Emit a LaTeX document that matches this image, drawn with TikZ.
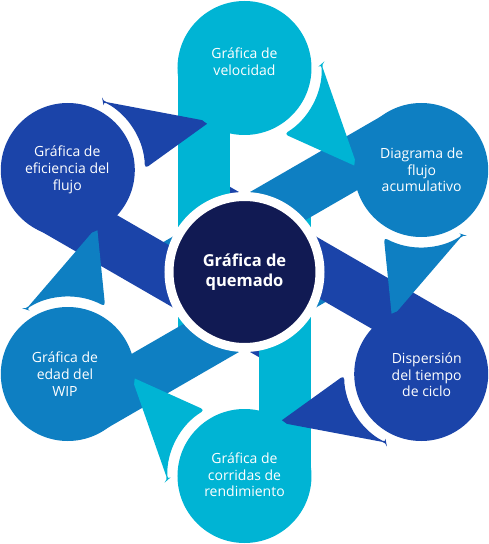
\documentclass[tikz,border=0pt]{standalone}
\usepackage{fontspec}
\setmainfont{Open Sans}
\definecolor{cyanband}{HTML}{00B4D4}
\definecolor{midband}{HTML}{0E7FC2}
\definecolor{darkband}{HTML}{1B44A9}
\definecolor{hubnavy}{HTML}{111A53}
\tikzset{
  bubble/.style={circle, minimum size=134pt, inner sep=0pt},
  tag/.style={text=white, align=center, inner sep=0pt, font=\fontsize{14}{16.7}\selectfont},
  hub/.style={circle, minimum size=151pt, inner sep=0pt, fill=hubnavy, draw=white, line width=9pt,
    text=white, align=center, font=\fontsize{16.5}{20}\selectfont\bfseries}
}
\begin{document}
\begin{tikzpicture}[x=1pt, y=1pt]
\useasboundingbox (-244.5,-272) rectangle (244.5,272);
\fill[cyanband] (-66.5,0) -- (-14.5,0) -- (-14.5,-78) -- (-66.5,-78) -- cycle;
\fill[midband, rotate=-60] (-66.5,0) -- (-14.5,0) -- (-14.5,-78) -- (-66.5,-78) -- cycle;
\fill[darkband, rotate=-120] (-66.5,0) -- (-14.5,0) -- (-14.5,-78) -- (-66.5,-78) -- cycle;
\fill[cyanband, rotate=180] (-66.5,0) -- (-14.5,0) -- (-14.5,-78) -- (-66.5,-78) -- cycle;
\fill[midband, rotate=120] (-66.5,0) -- (-14.5,0) -- (-14.5,-78) -- (-66.5,-78) -- cycle;
\fill[darkband, rotate=60] (-66.5,0) -- (-14.5,0) -- (-14.5,-78) -- (-66.5,-78) -- cycle;
\fill[cyanband] (-66.5,0) -- (-14.5,0) -- (-14.5,204) -- (-66.5,204) -- cycle;
\fill[midband, rotate=-60] (-66.5,0) -- (-14.5,0) -- (-14.5,204) -- (-66.5,204) -- cycle;
\fill[darkband, rotate=-120] (-66.5,0) -- (-14.5,0) -- (-14.5,204) -- (-66.5,204) -- cycle;
\fill[cyanband, rotate=180] (-66.5,0) -- (-14.5,0) -- (-14.5,204) -- (-66.5,204) -- cycle;
\fill[midband, rotate=120] (-66.5,0) -- (-14.5,0) -- (-14.5,204) -- (-66.5,204) -- cycle;
\fill[darkband, rotate=60] (-66.5,0) -- (-14.5,0) -- (-14.5,204) -- (-66.5,204) -- cycle;
\fill[cyanband, rounded corners=4pt] (76.9,208) -- (113,105) -- (39.7,138) arc[start angle=-59, end angle=3, radius=77] -- cycle;
\fill[midband, rotate=-60, rounded corners=4pt] (76.9,208) -- (113,105) -- (39.7,138) arc[start angle=-59, end angle=3, radius=77] -- cycle;
\fill[darkband, rotate=-120, rounded corners=4pt] (76.9,208) -- (113,105) -- (39.7,138) arc[start angle=-59, end angle=3, radius=77] -- cycle;
\fill[cyanband, rotate=180, rounded corners=4pt] (76.9,208) -- (113,105) -- (39.7,138) arc[start angle=-59, end angle=3, radius=77] -- cycle;
\fill[midband, rotate=120, rounded corners=4pt] (76.9,208) -- (113,105) -- (39.7,138) arc[start angle=-59, end angle=3, radius=77] -- cycle;
\fill[darkband, rotate=60, rounded corners=4pt] (76.9,208) -- (113,105) -- (39.7,138) arc[start angle=-59, end angle=3, radius=77] -- cycle;
\node[bubble, fill=cyanband] (velocidad) at (0,204) {};
\node[bubble, fill=midband] (diagrama) at (176.7,102) {};
\node[bubble, fill=darkband] (dispersion) at (176.7,-102) {};
\node[bubble, fill=cyanband] (corridas) at (0,-204) {};
\node[bubble, fill=midband] (wip) at (-176.7,-102) {};
\node[bubble, fill=darkband] (eficiencia) at (-176.7,102) {};
\node[hub] (quemado) at (0,0) {Gráfica de\\quemado};
\node[tag] (velocidadtxt) at (0,210) {Gráfica de\\velocidad};
\node[tag] (diagramatxt) at (177.2,102) {Diagrama de\\flujo\\acumulativo};
\node[tag] (dispersiontxt) at (182.2,-103) {Dispersión\\del tiempo\\de ciclo};
\node[tag] (corridastxt) at (0,-203) {Gráfica de\\corridas de\\rendimiento};
\node[tag] (wiptxt) at (-179.5,-102) {Gráfica de\\edad del\\WIP};
\node[tag] (eficienciatxt) at (-177.2,102) {Gráfica de\\eficiencia del\\flujo};
\end{tikzpicture}
\end{document}
